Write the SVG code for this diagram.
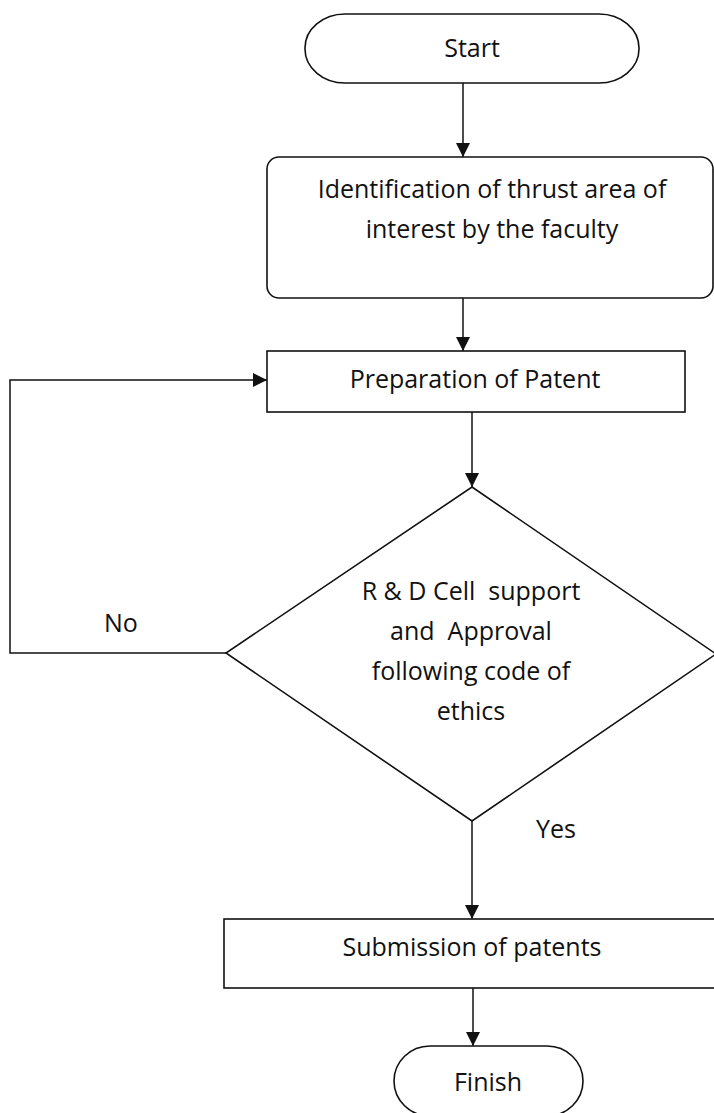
<svg xmlns="http://www.w3.org/2000/svg" width="714" height="1113" viewBox="0 0 714 1113">
<style>
.shape{fill:#fff;stroke:#111;stroke-width:1.6}
.conn{fill:none;stroke:#111;stroke-width:1.5}
.t{font-family:"Open Sans","Liberation Sans",sans-serif;font-size:25px;fill:#111;text-anchor:middle;white-space:pre}
.lbl{font-family:"Open Sans","Liberation Sans",sans-serif;font-size:25px;fill:#111}
</style>
<defs>
<marker id="arr" viewBox="0 0 14 14" refX="14" refY="7" markerWidth="14" markerHeight="14" markerUnits="userSpaceOnUse" orient="auto">
<path d="M0,0 L14,7 L0,14 Z" fill="#111"/>
</marker>
</defs>
<rect width="714" height="1113" fill="#fff"/>
<g id="connectors">
<line class="conn" x1="463" y1="83" x2="463" y2="157" marker-end="url(#arr)"/>
<line class="conn" x1="463" y1="298" x2="463" y2="351" marker-end="url(#arr)"/>
<line class="conn" x1="472" y1="412" x2="472" y2="487" marker-end="url(#arr)"/>
<polyline class="conn" points="226,653 10,653 10,380 267,380" marker-end="url(#arr)"/>
<line class="conn" x1="472" y1="821" x2="472" y2="919" marker-end="url(#arr)"/>
<line class="conn" x1="473" y1="988" x2="473" y2="1046" marker-end="url(#arr)"/>
<text class="lbl" x="104" y="632">No</text>
<text class="lbl" x="536" y="838">Yes</text>
</g>
<g id="start">
<rect class="shape" x="305" y="14" width="334" height="69" rx="40" ry="34"/>
<text class="t" x="472" y="57">Start</text>
</g>
<g id="identification">
<rect class="shape" x="267" y="157" width="446" height="141" rx="12" ry="12"/>
<text class="t" x="492" y="198">Identification of thrust area of</text>
<text class="t" x="492" y="238">interest by the faculty</text>
</g>
<g id="preparation">
<rect class="shape" x="267" y="351" width="418" height="61"/>
<text class="t" x="475" y="388">Preparation of Patent</text>
</g>
<g id="decision">
<polygon class="shape" points="472,487 716,654 472,821 226,653"/>
<text class="t" x="471" y="600" xml:space="preserve">R &amp; D Cell  support</text>
<text class="t" x="471" y="640" xml:space="preserve">and  Approval</text>
<text class="t" x="471" y="680">following code of</text>
<text class="t" x="471" y="720">ethics</text>
</g>
<g id="submission">
<rect class="shape" x="224" y="919" width="500" height="69"/>
<text class="t" x="472" y="956">Submission of patents</text>
</g>
<g id="finish">
<rect class="shape" x="394" y="1046" width="189" height="70" rx="36" ry="35"/>
<text class="t" x="488" y="1091">Finish</text>
</g>
</svg>
